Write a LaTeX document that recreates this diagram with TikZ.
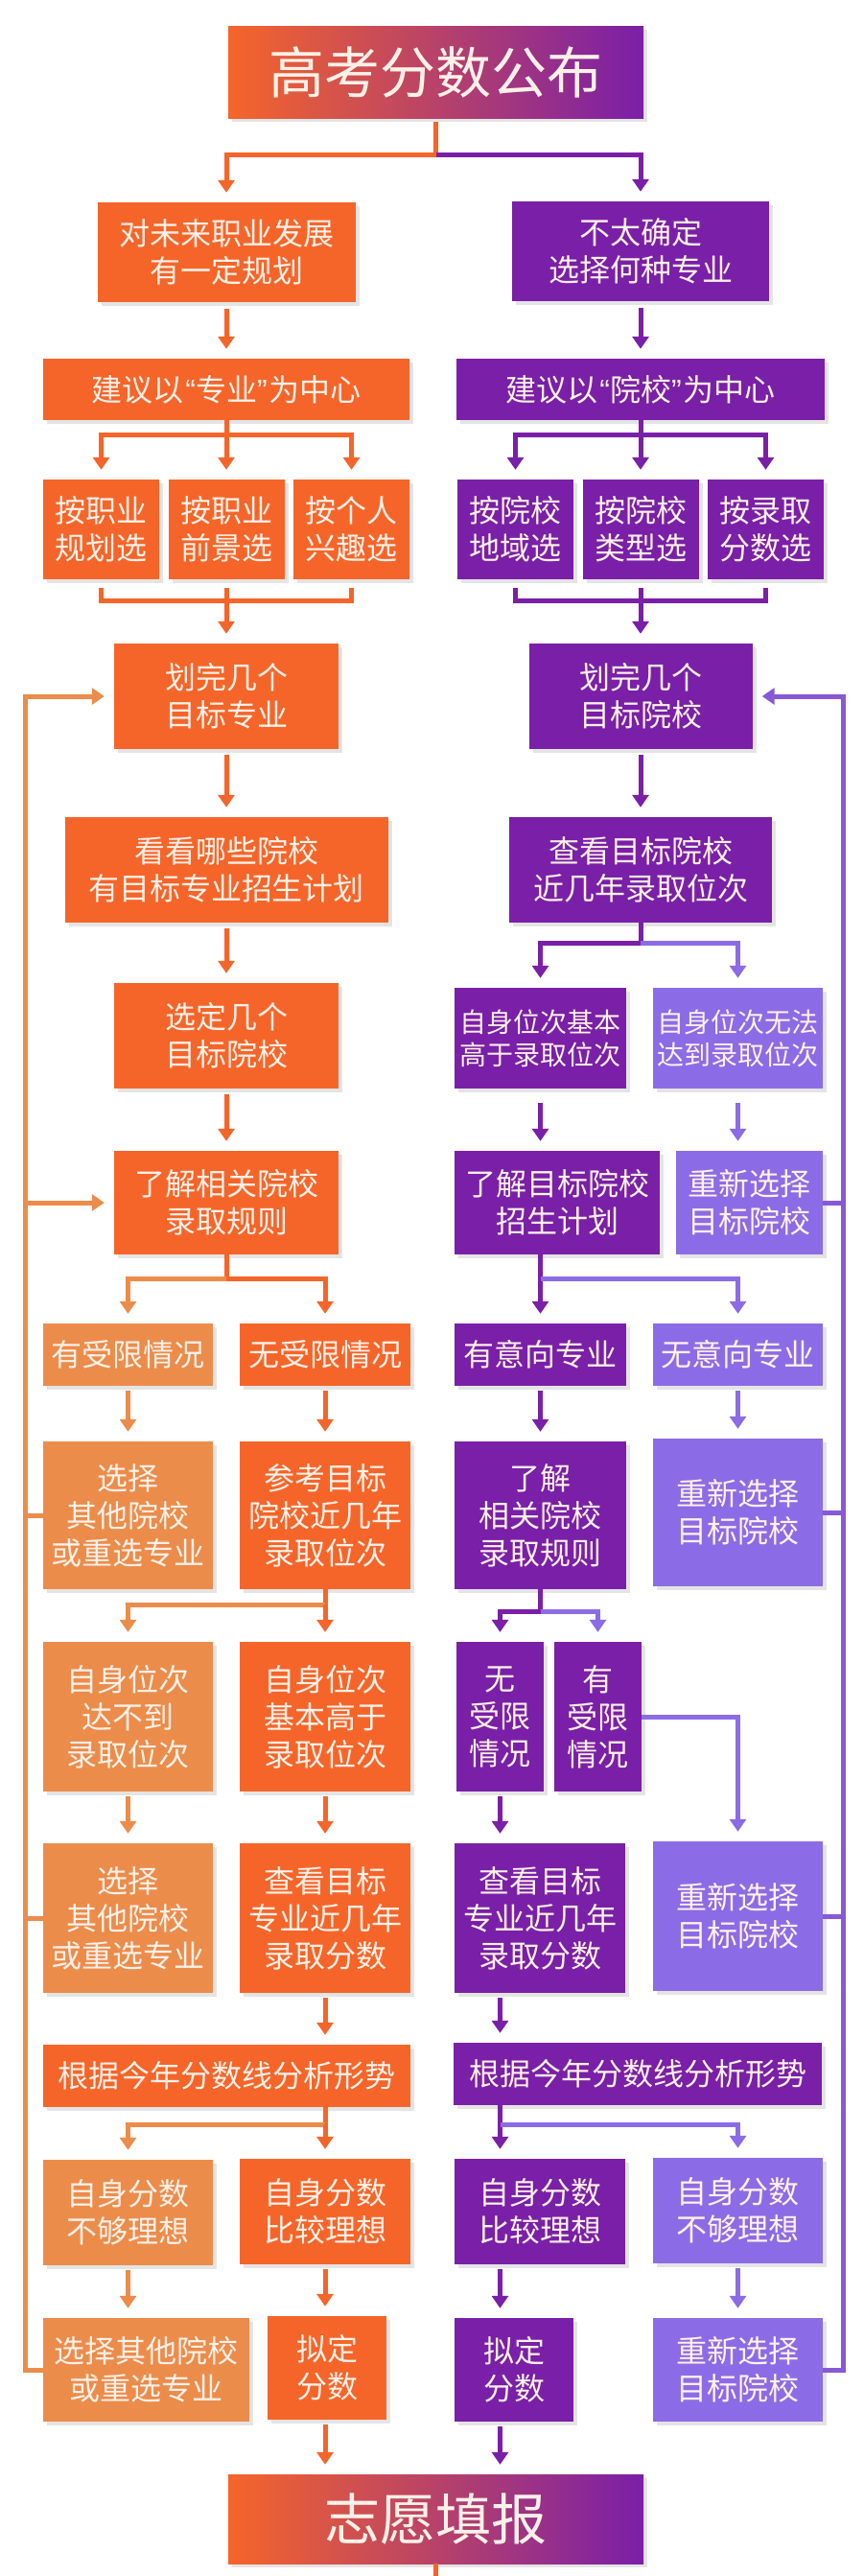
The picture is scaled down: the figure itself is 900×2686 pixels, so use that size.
\documentclass[tikz,border=0pt]{standalone}
\usepackage{fontspec}
\setmainfont{Noto Sans CJK SC}
\newfontfamily\qtfont{Liberation Sans}
\usepackage{xcolor}
\usepackage{tikz}
\usetikzlibrary{arrows.meta, positioning, calc, shadows}

\definecolor{boxor}{HTML}{F5652A}
\definecolor{boxlo}{HTML}{EC8C4B}
\definecolor{boxpu}{HTML}{7A1FA8}
\definecolor{boxlp}{HTML}{8C6CE6}
\definecolor{txt}{HTML}{FFF1E8}

\newcommand{\openq}{{\qtfont\kern2pt“}}
\newcommand{\closeq}{{\qtfont”\kern2pt}}

\begin{document}
\begin{tikzpicture}[x=1pt, y=-1pt,
  box/.style={rectangle, inner sep=0pt, align=center, text=txt,
              font=\fontsize{32}{39}\selectfont,
              drop shadow={shadow xshift=4pt, shadow yshift=-4pt, fill=black!30, opacity=0.35}},
  wh/.style 2 args={minimum width=#1pt, minimum height=#2pt},
  obox/.style={box, fill=boxor},
  lobox/.style={box, fill=boxlo},
  pbox/.style={box, fill=boxpu},
  lpbox/.style={box, fill=boxlp},
  gbox/.style={box, left color=boxor, right color=boxpu, font=\fontsize{58}{62}\selectfont},
  small/.style={font=\fontsize{28}{34}\selectfont},
  ln/.style={line width=5pt},
  tip/.style={-{Triangle[length=13pt,width=17pt]}, shorten >=10pt},
  oln/.style={ln, draw=boxor}, loln/.style={ln, draw=boxlo},
  pln/.style={ln, draw=boxpu}, lpln/.style={ln, draw=boxlp},
  fbln/.style={ln, draw=boxlp!75!boxpu},
  oarr/.style={oln, tip}, loarr/.style={loln, tip},
  parr/.style={pln, tip}, lparr/.style={lpln, tip}
]
  \useasboundingbox (0,0) rectangle (900,2686);

  % start
  \node[gbox, wh={433}{96}] (title) at (454.5,75) {高考分数公布};
  \node[obox, wh={269}{104}] (plan) at (236,263) {对未来职业发展\\有一定规划};
  \node[pbox, wh={268}{104}] (unsure) at (668,262) {不太确定\\选择何种专业};
  \node[obox, wh={382}{64}] (bymajor) at (236,406) {建议以\openq 专业\closeq 为中心};
  \node[pbox, wh={384}{64}] (byschool) at (668,406) {建议以\openq 院校\closeq 为中心};

  \node[obox, wh={121}{104}] (job) at (105.5,552) {按职业\\规划选};
  \node[obox, wh={121}{104}] (prospect) at (236,552) {按职业\\前景选};
  \node[obox, wh={121}{104}] (interest) at (366.5,552) {按个人\\兴趣选};
  \node[pbox, wh={121}{104}] (region) at (537.5,552) {按院校\\地域选};
  \node[pbox, wh={121}{104}] (type) at (668,552) {按院校\\类型选};
  \node[pbox, wh={121}{104}] (score) at (798.5,552) {按录取\\分数选};

  \node[obox, wh={234}{110}] (majors) at (236,726) {划完几个\\目标专业};
  \node[pbox, wh={233}{110}] (schools) at (668,726) {划完几个\\目标院校};
  \node[obox, wh={337}{110}] (plans) at (236,907) {看看哪些院校\\有目标专业招生计划};
  \node[pbox, wh={274}{110}] (ranks) at (668,907) {查看目标院校\\近几年录取位次};

  \node[obox, wh={234}{110}] (picked) at (236,1080) {选定几个\\目标院校};
  \node[pbox, small, wh={179}{105}] (rankhi) at (563.5,1082.5) {自身位次基本\\高于录取位次};
  \node[lpbox, small, wh={177}{105}] (rankno) at (769.5,1082.5) {自身位次无法\\达到录取位次};

  \node[obox, wh={234}{108}] (rulesL) at (236,1254) {了解相关院校\\录取规则};
  \node[pbox, wh={214}{108}] (enrol) at (581,1254) {了解目标院校\\招生计划};
  \node[lpbox, wh={153}{108}] (resel1) at (781.5,1254) {重新选择\\目标院校};

  \node[lobox, wh={177}{65}] (limL) at (133.5,1412.5) {有受限情况};
  \node[obox, wh={178}{65}] (nolimL) at (339,1412.5) {无受限情况};
  \node[pbox, wh={179}{65}] (want) at (563.5,1412.5) {有意向专业};
  \node[lpbox, wh={177}{65}] (nowant) at (769.5,1412.5) {无意向专业};

  \node[lobox, wh={177}{154}] (otherA) at (133.5,1580) {选择\\其他院校\\或重选专业};
  \node[obox, wh={178}{154}] (refer) at (339,1580) {参考目标\\院校近几年\\录取位次};
  \node[pbox, wh={179}{154}] (rulesR) at (563.5,1580) {了解\\相关院校\\录取规则};
  \node[lpbox, wh={177}{154}] (resel2) at (769.5,1577) {重新选择\\目标院校};

  \node[lobox, wh={177}{156}] (lowrank) at (133.5,1790) {自身位次\\达不到\\录取位次};
  \node[obox, wh={178}{156}] (highrank) at (339,1790) {自身位次\\基本高于\\录取位次};
  \node[pbox, wh={91}{156}] (nolimR) at (521.5,1790) {无\\受限\\情况};
  \node[pbox, wh={91}{156}] (limR) at (623.5,1790) {有\\受限\\情况};

  \node[lobox, wh={177}{156}] (otherB) at (133.5,2000) {选择\\其他院校\\或重选专业};
  \node[obox, wh={178}{156}] (scoreL) at (339,2000) {查看目标\\专业近几年\\录取分数};
  \node[pbox, wh={178}{156}] (scoreR) at (563,2000) {查看目标\\专业近几年\\录取分数};
  \node[lpbox, wh={177}{156}] (resel3) at (769.5,1998) {重新选择\\目标院校};

  \node[obox, wh={383}{65}] (trendL) at (236.5,2164.5) {根据今年分数线分析形势};
  \node[pbox, wh={384}{65}] (trendR) at (665,2162.5) {根据今年分数线分析形势};

  \node[lobox, wh={177}{110}] (lowL) at (133.5,2307) {自身分数\\不够理想};
  \node[obox, wh={178}{110}] (goodL) at (339,2306) {自身分数\\比较理想};
  \node[pbox, wh={178}{110}] (goodR) at (563,2306) {自身分数\\比较理想};
  \node[lpbox, wh={177}{110}] (lowR) at (769.5,2305) {自身分数\\不够理想};

  \node[lobox, wh={215}{108}] (otherC) at (152.5,2471) {选择其他院校\\或重选专业};
  \node[obox, wh={124}{108}] (fixL) at (341,2469) {拟定\\分数};
  \node[pbox, wh={124}{108}] (fixR) at (536,2471) {拟定\\分数};
  \node[lpbox, wh={177}{108}] (resel4) at (769.5,2471) {重新选择\\目标院校};

  \node[gbox, wh={433}{93}] (apply) at (454.5,2626.5) {志愿填报};

  % top split
  \draw[oln, shorten <=4pt] (title.south) -- ++(0,38) coordinate (split);
  \draw[oarr] (split) -| (plan.north);
  \draw[parr] (split) -| (unsure.north);
  \draw[oarr, shorten <=7pt] (plan) -- (bymajor);
  \draw[parr, shorten <=7pt] (unsure) -- (byschool);

  % three ways
  \draw[oln] (bymajor.south) -- ++(0,15) coordinate (f1);
  \foreach \n in {job,prospect,interest}
    \draw[oarr] (f1) -| (\n.north);
  \draw[pln] (byschool.south) -- ++(0,15) coordinate (f2);
  \foreach \n in {region,type,score}
    \draw[parr] (f2) -| (\n.north);

  \draw[oln] ($(job.south)+(0,9)$) |- ($(interest.south)+(0,22)$) -- ($(interest.south)+(0,9)$);
  \draw[oarr, shorten <=9pt] (prospect.south) -- (majors.north);
  \draw[pln] ($(region.south)+(0,9)$) |- ($(score.south)+(0,22)$) -- ($(score.south)+(0,9)$);
  \draw[parr, shorten <=9pt] (type.south) -- (schools.north);

  % left column
  \draw[oarr, shorten <=6pt] (majors) -- (plans);
  \draw[oarr, shorten <=6pt] (plans) -- (picked);
  \draw[oarr, shorten <=6pt] (picked) -- (rulesL);
  \draw[oln] (rulesL.south) -- ++(0,25) coordinate (f4);
  \draw[loarr] (f4) -| (limL.north);
  \draw[oarr] (f4) -| (nolimL.north);
  \draw[loarr, shorten <=5pt] (limL) -- (otherA);
  \draw[oarr, shorten <=5pt] (nolimL) -- (refer);
  \draw[oln] (refer.south) -- ++(0,16) coordinate (f6);
  \draw[loarr] (f6) -| (lowrank.north);
  \draw[oarr] (f6) -- (highrank.north);
  \draw[loarr, shorten <=5pt] (lowrank) -- (otherB);
  \draw[oarr, shorten <=5pt] (highrank) -- (scoreL);
  \draw[oarr, shorten <=5pt] (scoreL.south) -- (scoreL.south |- trendL.north);
  \draw[oln] (trendL.south -| scoreL) -- ++(0,18) coordinate (f8);
  \draw[loarr] (f8) -| (lowL.north);
  \draw[oarr] (f8) -- (f8 |- goodL.north);
  \draw[loarr, shorten <=5pt] (lowL.south) -- (lowL.south |- otherC.north);
  \draw[oarr, shorten <=5pt] (goodL.south) -- (goodL.south |- fixL.north);
  \draw[oarr, shorten <=5pt] (fixL.south -| goodL) -- (goodL |- apply.north);

  % right column
  \draw[parr, shorten <=6pt] (schools) -- (ranks);
  \draw[pln] (ranks.south) -- ++(0,21) coordinate (f3);
  \draw[parr] (f3) -| (rankhi.north);
  \draw[lparr] (f3) -| (rankno.north);
  \draw[parr, shorten <=15pt] (rankhi.south) -- (rankhi.south |- enrol.north);
  \draw[lparr, shorten <=15pt] (rankno.south) -- (rankno.south |- resel1.north);
  \draw[pln] (enrol.south -| want) -- ++(0,25) coordinate (f5);
  \draw[parr] (f5) -- (want.north);
  \draw[lparr] (f5) -| (nowant.north);
  \draw[parr, shorten <=5pt] (want) -- (rulesR);
  \draw[lparr, shorten <=5pt] (nowant) -- (resel2);
  \draw[pln] (rulesR.south) -- ++(0,23) coordinate (f7);
  \draw[parr] (f7) -| (nolimR.north);
  \draw[lparr] (f7) -| (limR.north);
  \draw[lparr] (limR.east) -| (resel3.north);
  \draw[parr, shorten <=5pt] (nolimR.south) -- (nolimR.south |- scoreR.north);
  \draw[parr, shorten <=5pt] (scoreR.south -| nolimR) -- (nolimR |- trendR.north);
  \draw[pln] (trendR.south -| nolimR) -- ++(0,20) coordinate (f9);
  \draw[parr] (f9) -- (f9 |- goodR.north);
  \draw[lparr] (f9) -| (lowR.north);
  \draw[parr, shorten <=5pt] (goodR.south -| nolimR) -- (nolimR |- fixR.north);
  \draw[lparr, shorten <=5pt] (lowR) -- (resel4);
  \draw[parr, shorten <=5pt] (fixR.south -| nolimR) -- (nolimR |- apply.north);

  \draw[oln] (apply.south) -- ++(0,14) coordinate (tail);

  % back loops
  \draw[loln, tip] (otherC.west) -- ++(-18,0) coordinate (lb) |- (majors.west);
  \draw[loarr] (lb |- rulesL.west) -- (rulesL.west);
  \foreach \n in {otherA,otherB}
    \draw[loln] (\n.west) -- (\n.west -| lb);
  \draw[fbln, tip] (resel4.east) -- ++(21,0) coordinate (rb) |- (schools.east);
  \foreach \n in {resel1,resel2,resel3}
    \draw[fbln] (\n.east) -- (\n.east -| rb);
\end{tikzpicture}
\end{document}
